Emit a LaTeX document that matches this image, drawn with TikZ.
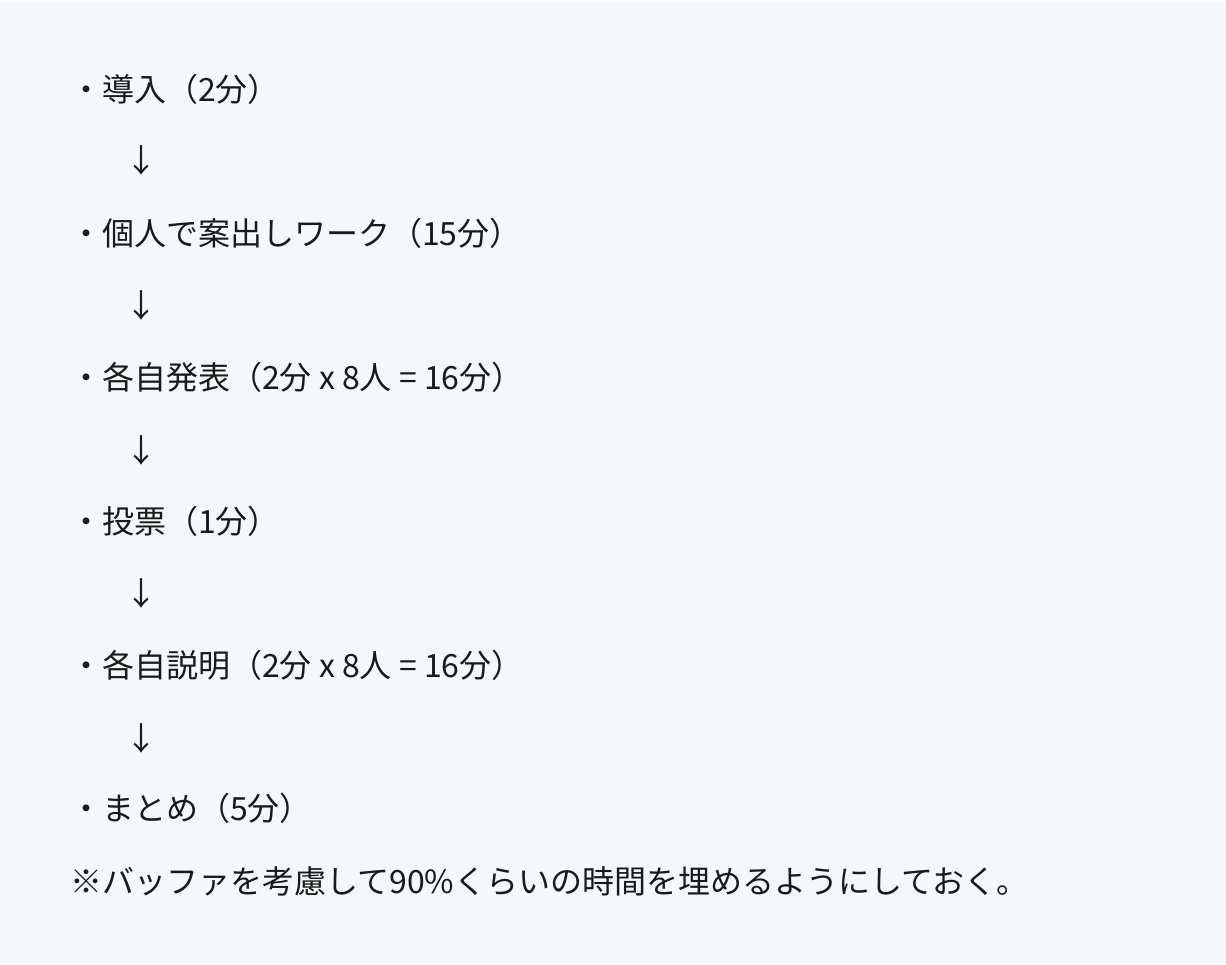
\documentclass[tikz,border=0pt]{standalone}
\usepackage{fontspec}
\setmainfont{Noto Sans CJK JP}
\definecolor{pagebg}{HTML}{F4F8FB}
\definecolor{inkblack}{HTML}{1A1A1A}

\begin{document}
\begin{tikzpicture}[x=1pt,y=1pt]
    \tikzstyle{every node}+=[inner sep=0pt, text=inkblack]
    \tikzstyle{step line}=[anchor=base west, font=\fontsize{32}{38}\selectfont]
    \tikzstyle{down mark}=[anchor=center, font=\fontsize{32}{38}\selectfont]
    \fill [white] (0,0) rectangle (1226,-964);
    \fill [pagebg] (0,-2) rectangle (1226,-964);
    \useasboundingbox (0,0) rectangle (1226,-964);
    % steps
    \node [step line] (intro) at (70,-101) {・導入（2分）};
    \node [down mark] (d1) at (141,-160) {↓};
    \node [step line] (work) at (70,-245) {・個人で案出しワーク（15分）};
    \node [down mark] (d2) at (141,-305) {↓};
    \node [step line] (present) at (70,-389) {・各自発表（2分 x 8人 = 16分）};
    \node [down mark] (d3) at (141,-450) {↓};
    \node [step line] (vote) at (70,-533) {・投票（1分）};
    \node [down mark] (d4) at (141,-593) {↓};
    \node [step line] (explain) at (70,-677) {・各自説明（2分 x 8人 = 16分）};
    \node [down mark] (d5) at (141,-738) {↓};
    \node [step line] (wrapup) at (70,-820) {・まとめ（5分）};
    % note
    \node [step line] (note) at (70,-893) {※バッファを考慮して90\%くらいの時間を埋めるようにしておく。};
\end{tikzpicture}
\end{document}
